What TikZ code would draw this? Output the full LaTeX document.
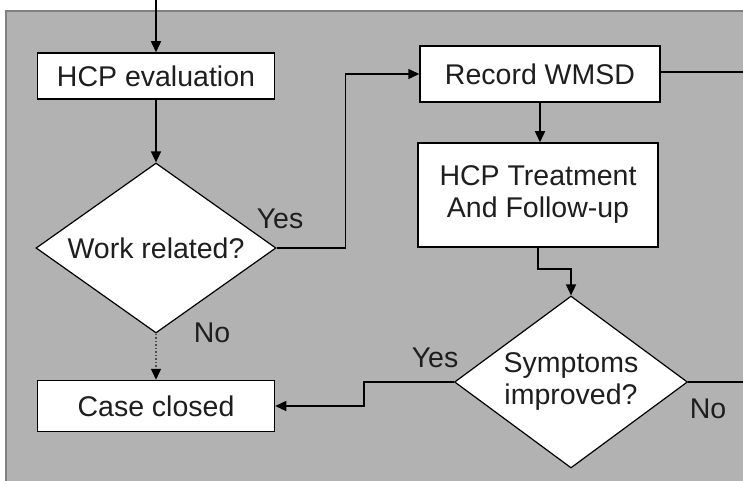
\documentclass[tikz,border=0pt]{standalone}
\usepackage{fontspec}
\setmainfont{Liberation Sans}
\usetikzlibrary{shapes.geometric}
\usetikzlibrary{arrows.meta}
\usepackage{xcolor}
\definecolor{bggray}{HTML}{B2B2B2}
\definecolor{edgegray}{HTML}{808080}
\definecolor{ink}{HTML}{1E1E1E}

\begin{document}
\begin{tikzpicture}[x=1pt,y=-1pt,
  txt/.style={font=\fontsize{28.5}{32}\selectfont, text=ink},
  box/.style={txt, draw, fill=white, line width=1.5pt, align=center, minimum width=237pt, minimum height=46pt},
  test/.style={txt, diamond, draw, fill=white, line width=1.2pt, inner sep=0pt, align=center},
  flow/.style={line width=1.5pt, -{Triangle[length=11pt,width=10pt]}}]
\useasboundingbox (0,0) rectangle (743,481);
\fill [bggray] (5,10) rectangle (750,490);
\draw [edgegray, line width=2.5pt] (6,490) -- (6,11) -- (750,11);

% boxes and tests
\node [box] (eval) at (156,76) {HCP evaluation};
\node [test, shape aspect=1.41, minimum width=240pt, minimum height=170pt] (work) at (156,248) {Work related?};
\node [box, minimum height=51pt] (closed) at (156,406) {Case closed};
\node [box, minimum width=240pt, minimum height=56pt] (record) at (540,74) {Record WMSD};
\node [box, minimum width=240pt, minimum height=104pt] (treat) at (538,195) {HCP Treatment\\And Follow-up};
\node [test, shape aspect=1.35, inner sep=-5pt, minimum width=233pt, minimum height=172pt] (sympt) at (571,382) {Symptoms\\improved?};

\coordinate (entry) at (156,0);
\coordinate (outa) at (743,72);
\coordinate (outb) at (743,382);

% connectors
\draw [flow] (entry) -- (eval);
\draw [flow] (eval) -- (work);
\draw [line width=1.5pt, dotted, draw=black!70, -{Triangle[length=11pt,width=10pt,color=black]}] (work) -- (closed);
\draw [flow] (work.east) -- ++(69,0) |- (record.west);
\draw [line width=1.5pt] (record.east |- outa) -- (outa);
\draw [flow] (record.south) -- (record.south |- treat.north);
\draw [flow] (treat.south) -- ++(0,21) -| (sympt.north);
\draw [flow] (sympt.west) -- ++(-90,0) |- (closed.east);
\draw [line width=1.5pt] (sympt.east) -- (outb);

% labels
\node [txt] (yesa) at (280,219) {Yes};
\node [txt] (noa) at (212,333) {No};
\node [txt] (yesb) at (435,358) {Yes};
\node [txt] (nob) at (708,409) {No};

\end{tikzpicture}
\end{document}
